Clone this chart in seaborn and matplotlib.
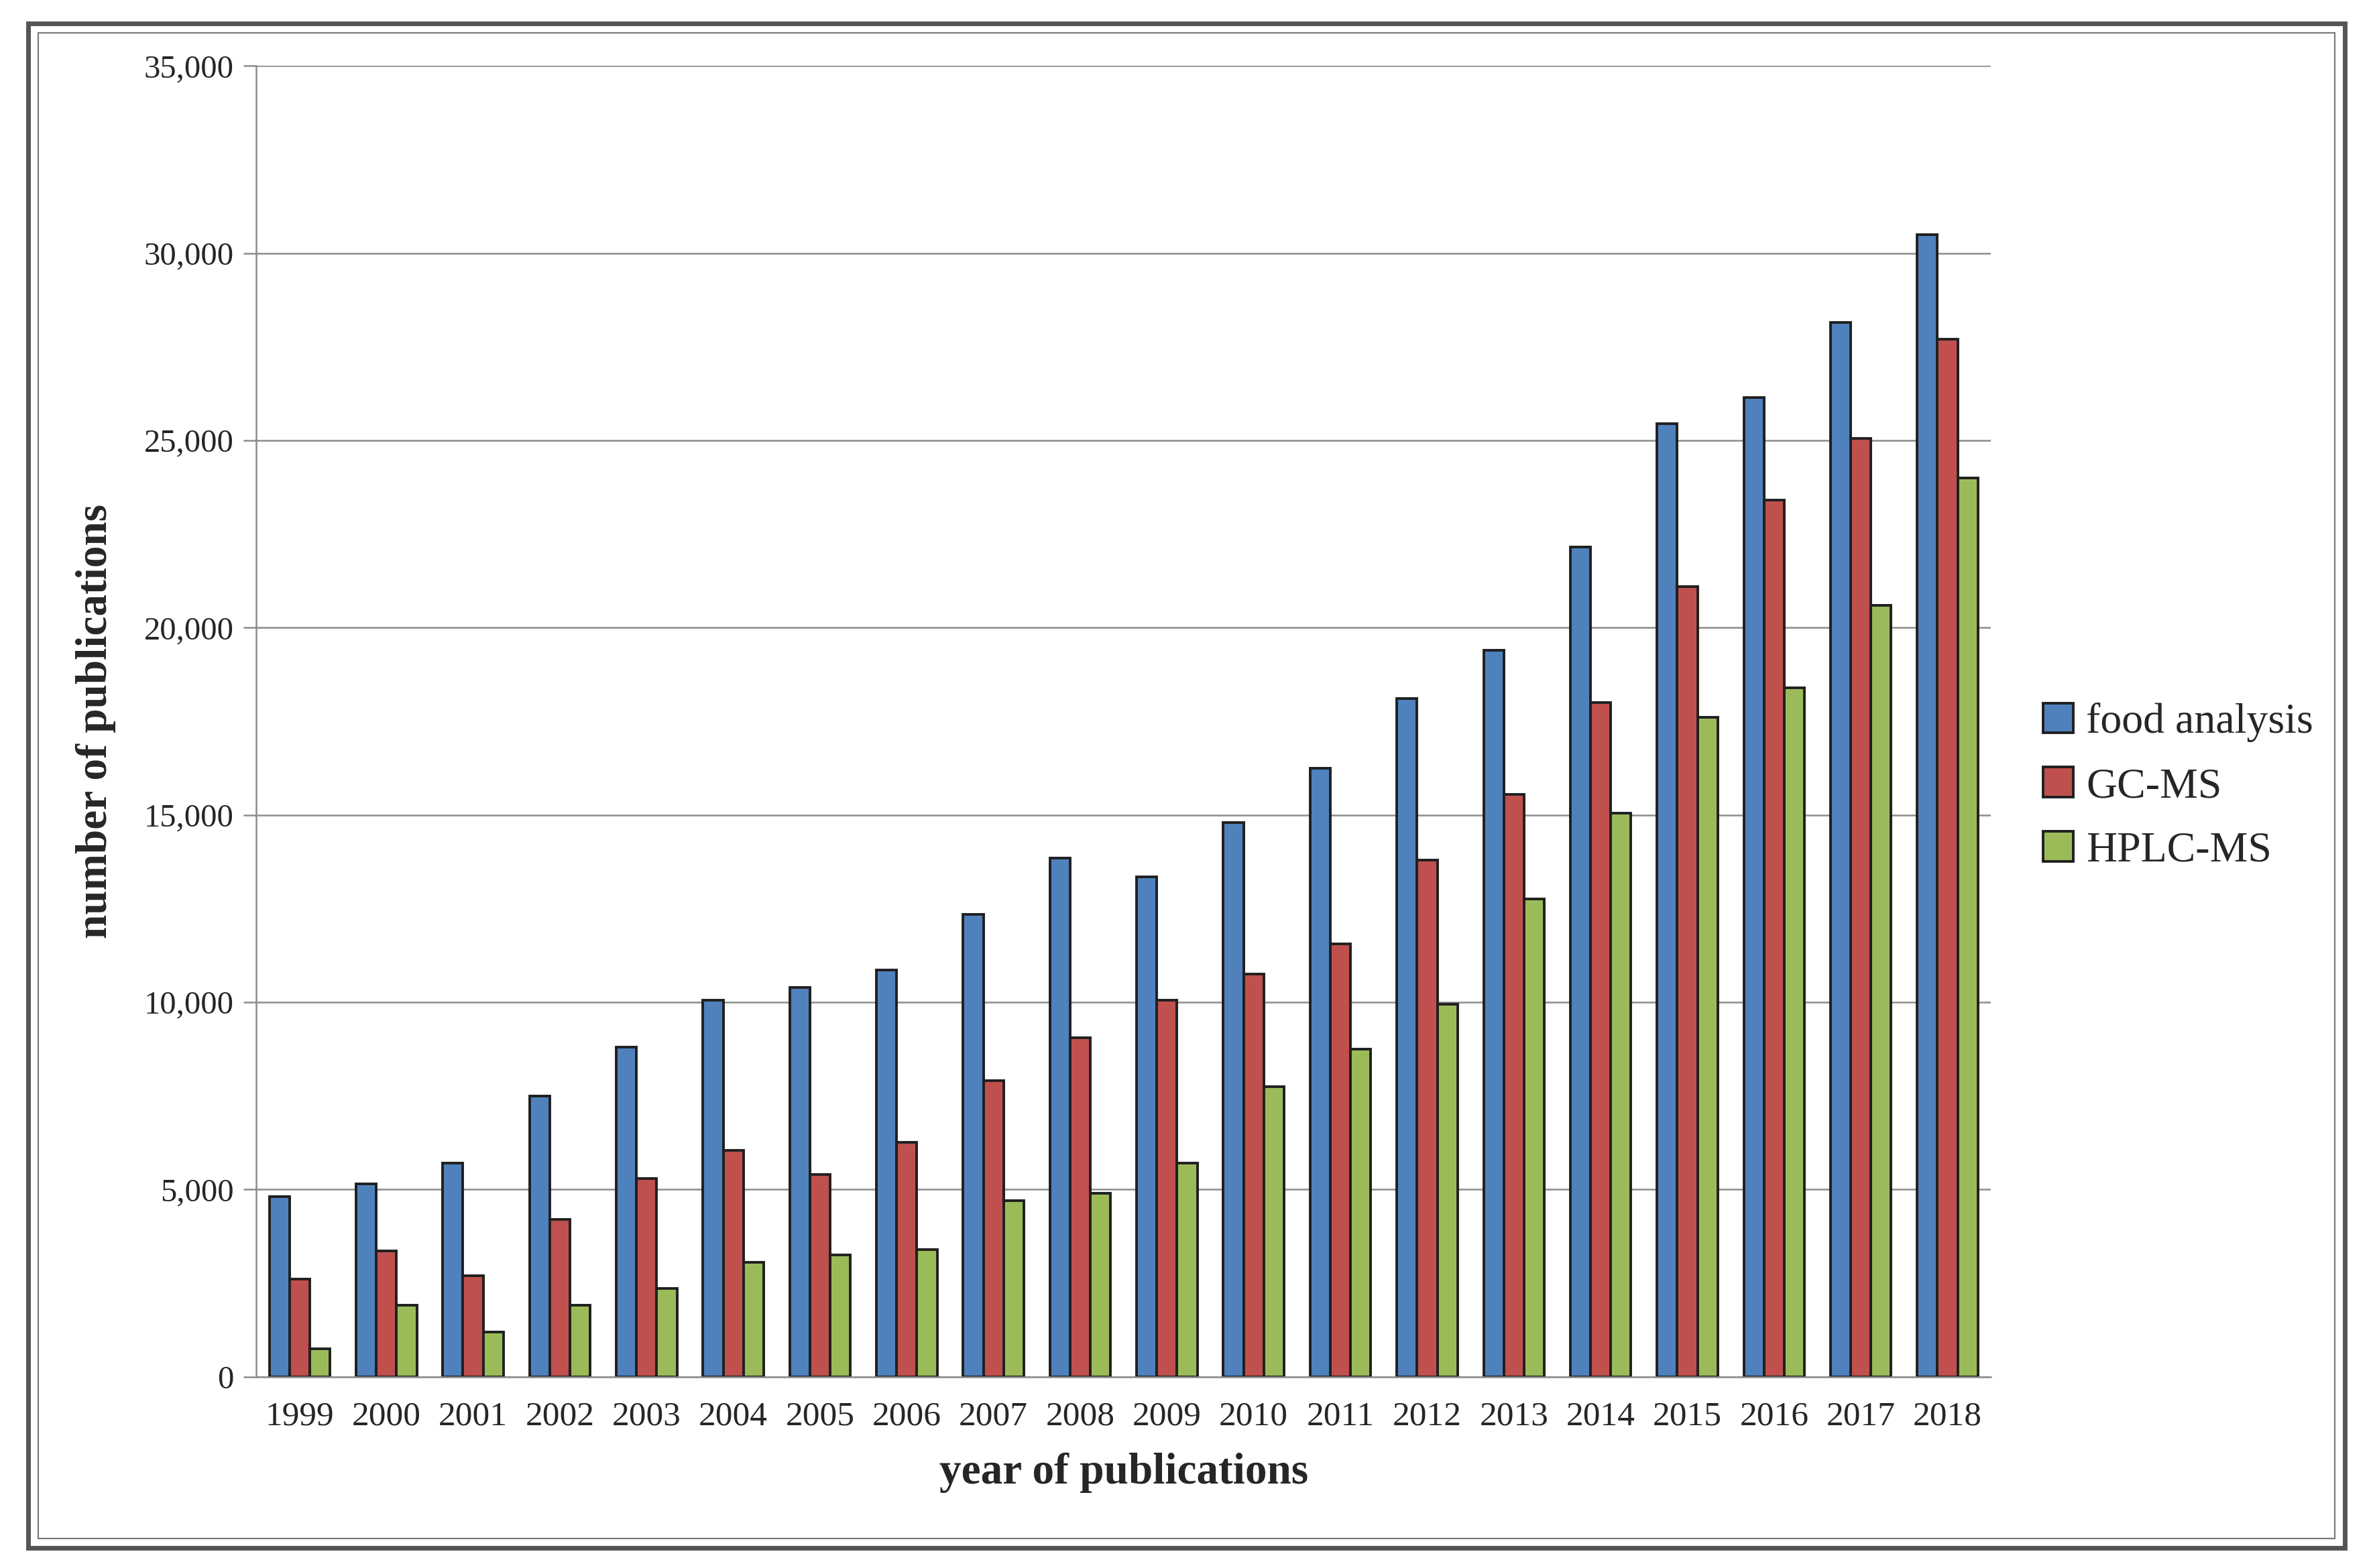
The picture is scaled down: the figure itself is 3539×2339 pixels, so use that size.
import pandas as pd
import numpy as np
import matplotlib
matplotlib.use("Agg")
import matplotlib.pyplot as plt
import matplotlib.ticker as mticker
from matplotlib.patches import Rectangle
import seaborn as sns

years = [str(y) for y in range(1999, 2019)]
food_analysis = [4800, 5150, 5700, 7500, 8800, 10050, 10400, 10850, 12350, 13850,
                 13350, 14800, 16250, 18100, 19400, 22150, 25450, 26150, 28150, 30500]
gc_ms = [2600, 3350, 2700, 4200, 5300, 6050, 5400, 6250, 7900, 9050,
         10050, 10750, 11550, 13800, 15550, 18000, 21100, 23400, 25050, 27700]
hplc_ms = [750, 1900, 1200, 1900, 2350, 3050, 3250, 3400, 4700, 4900,
           5700, 7750, 8750, 9950, 12750, 15050, 17600, 18400, 20600, 24000]
series_names = ["food analysis", "GC-MS", "HPLC-MS"]
colors = ["#4F81BD", "#C0504D", "#9BBB59"]

df = pd.DataFrame({
    "year": years * 3,
    "count": food_analysis + gc_ms + hplc_ms,
    "series": np.repeat(series_names, len(years)),
})

sns.set_theme(style="white")
plt.rcParams["font.family"] = ["Liberation Serif", "DejaVu Serif"]

fig = plt.figure(figsize=(35.39, 23.39), dpi=100)
ax = fig.add_axes([0.108, 0.122, 0.731, 0.836])

sns.barplot(data=df, x="year", y="count", hue="series", palette=colors,
            width=0.7, edgecolor="#1f1f1f", linewidth=2.8, saturation=1,
            ax=ax)

ax.set_ylim(0, 35000)
ax.set_xlim(-0.5, len(years) - 0.5)
ax.yaxis.set_major_locator(mticker.MultipleLocator(5000))
ax.yaxis.set_major_formatter(mticker.FuncFormatter(lambda v, p: f"{int(v):,}"))
ax.grid(axis="y", color="#8c8c8c", linewidth=1.8)
ax.set_axisbelow(True)

for side in ["top", "right"]:
    ax.spines[side].set_visible(False)
for side in ["left", "bottom"]:
    ax.spines[side].set_color("#8c8c8c")
    ax.spines[side].set_linewidth(1.8)

ax.tick_params(axis="y", which="major", length=14, width=1.8, color="#8c8c8c",
               labelsize=35, pad=10, left=True)
ax.tick_params(axis="x", length=0, labelsize=37, pad=26)

ax.set_xlabel("year of publications", fontsize=47, fontweight="bold", labelpad=22)
ax.set_ylabel("number of publications", fontsize=47, fontweight="bold", labelpad=30)

ax.legend(loc="center left", bbox_to_anchor=(1.008, 0.45), frameon=False,
          fontsize=46, handlelength=0.7, handleheight=0.7, handletextpad=0.3,
          labelspacing=0.58, title=None)

# double frame around the whole figure
fig.patches.append(Rectangle((0.012, 0.013), 0.976, 0.972, transform=fig.transFigure,
                             fill=False, edgecolor="#555555", linewidth=5))
fig.patches.append(Rectangle((0.016, 0.019), 0.968, 0.960, transform=fig.transFigure,
                             fill=False, edgecolor="#777777", linewidth=1.5))

fig.savefig("out.png", dpi=100)
